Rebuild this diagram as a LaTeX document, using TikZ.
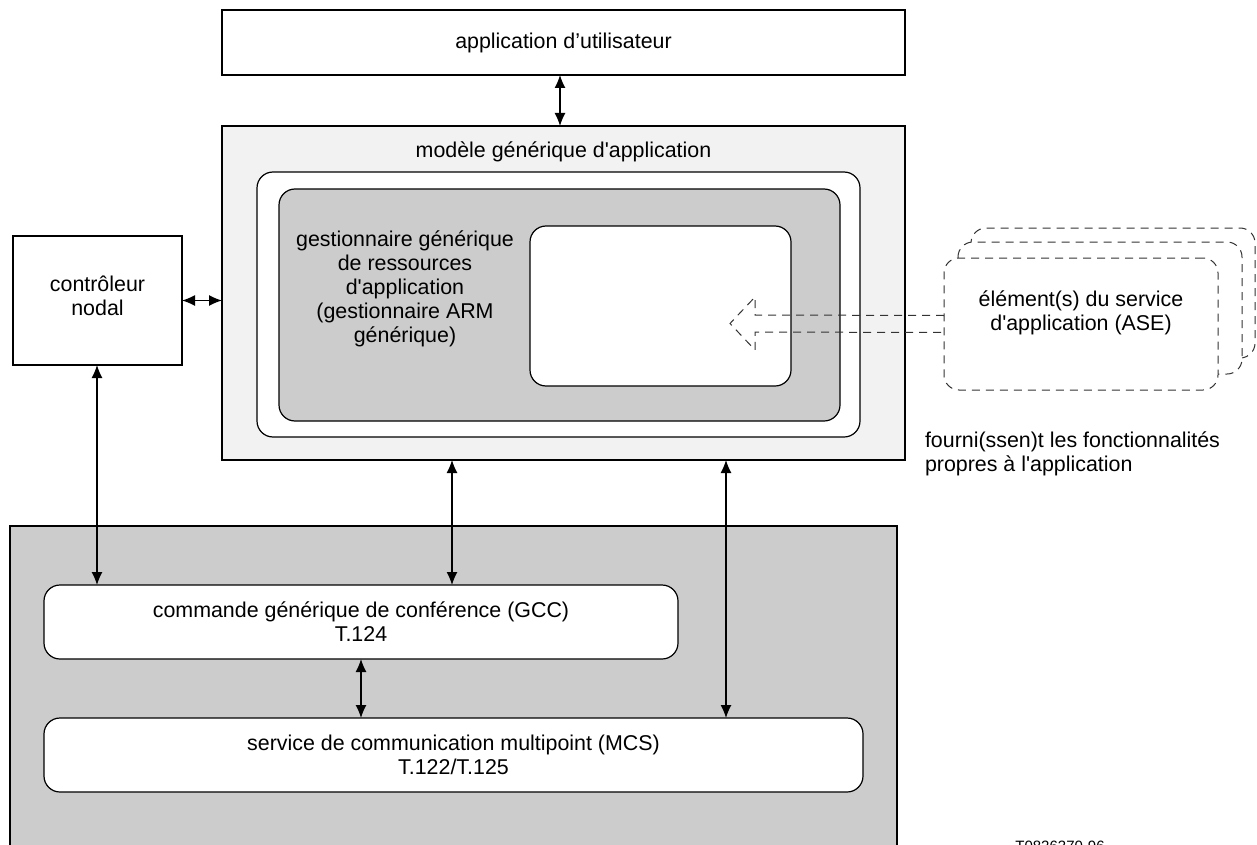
\documentclass[tikz,border=0pt]{standalone}
\usepackage{fontspec}
\setmainfont{Liberation Sans}[Ligatures=TeXOff]
\usetikzlibrary{arrows.meta}
\definecolor{lightbg}{HTML}{F2F2F2}
\definecolor{midgray}{HTML}{CCCCCC}
\definecolor{dashcol}{HTML}{333333}
\begin{document}
\begin{tikzpicture}[x=1pt,y=-1pt,
  every node/.style={font=\fontsize{21.4}{24}\selectfont, inner sep=0pt, outer sep=0pt, align=center},
  box/.style={draw, line width=1.2pt, rectangle},
  rbox/.style={draw, line width=1.2pt, rounded corners=16pt},
  dbl/.style={{Latex[length=13pt,width=11pt]}-{Latex[length=13pt,width=11pt]}, line width=1.2pt},
  dsh/.style={draw=dashcol, line width=1pt, dash pattern=on 8pt off 6pt},
  asebox/.style={dsh, rounded corners=15pt, fill=white}
]
\useasboundingbox (0,0) rectangle (1257,845);

% big gray lower box
\node[box, fill=midgray, minimum width=887pt, minimum height=340pt] (low) at (453.5,696) {};

% user application
\node[box, fill=white, minimum width=683pt, minimum height=65pt] (user) at (563.5,42.5) {application d’utilisateur};

% generic application model
\node[box, fill=lightbg, minimum width=683pt, minimum height=334pt] (modele) at (563.5,293) {};
\node (modtitle) at (563.5,152) {modèle générique d'application};
\node[rbox, fill=white, minimum width=603pt, minimum height=265pt] (inner) at (558.5,304.5) {};
\node[rbox, fill=midgray, minimum width=561pt, minimum height=232pt] (arm) at (559.5,305) {};
\node[rbox, fill=white, minimum width=261pt, minimum height=160pt] (slot) at (660.5,306) {};
\node (armtxt) at (405,289) {gestionnaire générique\\de ressources\\d'application\\(gestionnaire ARM\\générique)};

% node controller
\node[box, fill=white, minimum width=169pt, minimum height=129pt] (ctrl) at (97.5,300.5) {};
\node (ctrltxt) at (97.5,296) {contrôleur\\nodal};

% ASE stack
\draw[asebox] (971,228) rectangle (1255,358);
\draw[asebox] (958,242) rectangle (1242,374);
\node[asebox, minimum width=274pt, minimum height=132pt] (ase) at (1081,324) {};
\node (asetxt) at (1081,313) {élément(s) du service\\d'application (ASE)};

% dashed outline arrow
\draw[dsh] ([yshift=8.5pt]ase.west) -- (755,315) -- (755,297) -- (730,323.5) -- (755,350) -- (755,332) -- ([yshift=-8.5pt]ase.west);

\node[anchor=west, align=left] (fourni) at (925,453.5) {fourni(ssen)t les fonctionnalités\\propres à l'application};

% GCC and MCS
\node[rbox, fill=white, minimum width=634pt, minimum height=74pt] (gcc) at (361,622) {commande générique de conférence (GCC)\\T.124};
\node[rbox, fill=white, minimum width=819pt, minimum height=74pt] (mcs) at (453.5,755) {service de communication multipoint (MCS)\\T.122/T.125};

% arrows
\coordinate (xa) at (560,0);
\coordinate (xb) at (97,0);
\coordinate (xc) at (452,0);
\coordinate (xd) at (726,0);
\coordinate (xe) at (361,0);
\draw[dbl] (user.south -| xa) -- (modele.north -| xa);
\draw[dbl] (ctrl.east) -- (ctrl.east -| modele.west);
\draw[dbl] (ctrl.south -| xb) -- (gcc.north -| xb);
\draw[dbl] (modele.south -| xc) -- (gcc.north -| xc);
\draw[dbl] (modele.south -| xd) -- (mcs.north -| xd);
\draw[dbl] (gcc.south -| xe) -- (mcs.north -| xe);

\node[font=\fontsize{15}{18}\selectfont, anchor=north] (ref) at (1060,841) {T0826370-96};
\end{tikzpicture}
\end{document}
